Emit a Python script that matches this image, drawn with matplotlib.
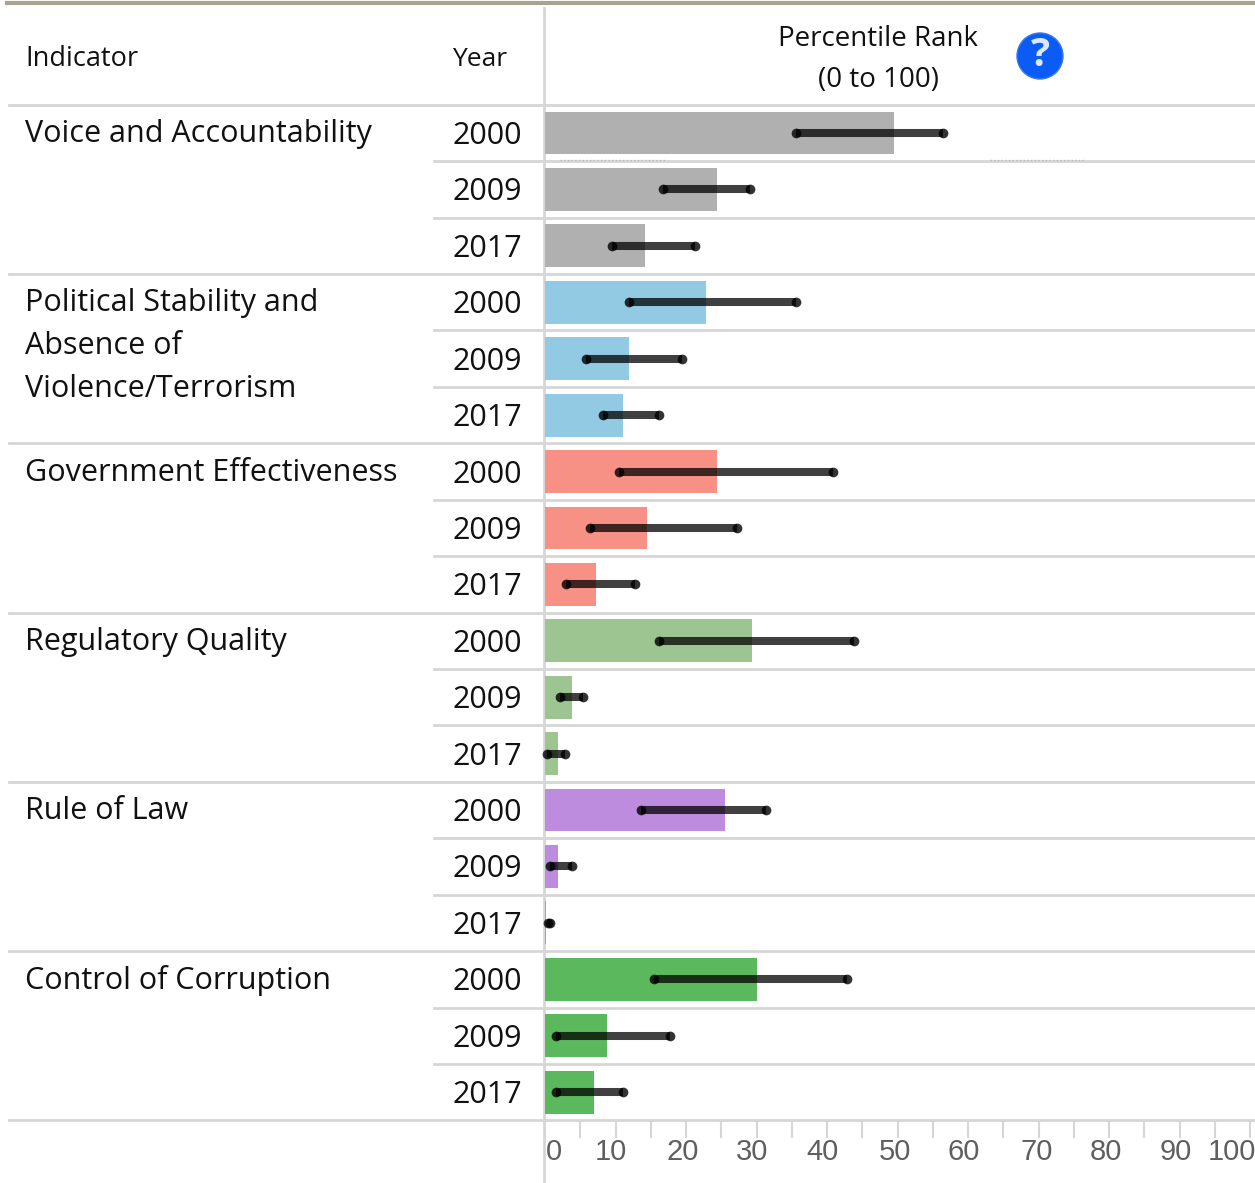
import numpy as np
import matplotlib
matplotlib.use('Agg')
import matplotlib.pyplot as plt
from matplotlib.patches import Circle

W, H = 1255, 1183

indicators = ['Voice and Accountability',
              'Political Stability and\nAbsence of\nViolence/Terrorism',
              'Government Effectiveness',
              'Regulatory Quality',
              'Rule of Law',
              'Control of Corruption']
years = ['2000', '2009', '2017']
colors = ['#b0b0b0', '#92c9e3', '#f79186', '#9cc591', '#bd8cdf', '#5cb85c']

ranks = [49.5, 24.4, 14.2,
         22.8, 11.9, 11.1,
         24.4, 14.5, 7.3,
         29.4, 3.9, 1.9,
         25.5, 1.9, 0.2,
         30.1, 8.8, 7.0]
low = [35.6, 16.7, 9.5,
       11.9, 5.8, 8.2,
       10.5, 6.4, 3.0,
       16.2, 2.1, 0.3,
       13.6, 0.7, 0.4,
       15.5, 1.6, 1.6]
high = [56.5, 29.1, 21.3,
        35.6, 19.5, 16.1,
        40.8, 27.3, 12.7,
        43.9, 5.4, 2.9,
        31.3, 3.9, 0.7,
        42.9, 17.8, 11.0]
tick_labels = ['0', '10', '20', '30', '40', '50', '60', '70', '80', '90', '100']

plt.rcParams['font.family'] = ['Open Sans', 'DejaVu Sans']
fig = plt.figure(figsize=(W / 100, H / 100), dpi=100)

# overlay in pixel coordinates for the table rules and text
px = fig.add_axes([0, 0, 1, 1])
px.set_xlim(0, W)
px.set_ylim(H, 0)
px.axis('off')

top, row_h = 104.8, 56.42
n = len(ranks)
grey = '#d6d6d6'
px.plot([7, W], [3, 3], color='#a8a290', lw=3)
px.plot([544, 544], [8, H], color=grey, lw=2)
for i in range(n + 1):
    y = top + i * row_h
    x0 = 9 if i % 3 == 0 else 434
    px.plot([x0, W], [y, y], color=grey, lw=2)
px.plot([560, 665], [160, 160], color='#bbbbbb', lw=1, ls=':')
px.plot([990, 1085], [160, 160], color='#bbbbbb', lw=1, ls=':')

px.text(25, 59, 'Indicator', fontsize=19.5, va='center', color='#111111')
px.text(452, 59, 'Year', fontsize=19, va='center', color='#111111')
px.text(878, 39, 'Percentile Rank', fontsize=20, va='center', ha='center', color='#111111')
px.text(878, 80, '(0 to 100)', fontsize=20, va='center', ha='center', color='#111111')
px.add_patch(Circle((1040, 56), 23, fc='#0b5cf5', ec='#3a78f0', lw=1))
px.text(1040, 55, '?', fontsize=29, color='#dce8ff', ha='center', va='center', fontweight='bold')

for i, name in enumerate(indicators):
    for j, line in enumerate(name.split('\n')):
        px.text(25, 134 + i * 3 * row_h + j * 43, line, fontsize=22, va='center', color='#111111')
for i in range(n):
    px.text(452, 136 + i * row_h, years[i % 3], fontsize=22, va='center', color='#111111')

# chart axes, 0 to 100 over the bar column
ax = fig.add_axes([545 / W, 1 - (top + n * row_h) / H, 705 / W, n * row_h / H])
ax.patch.set_alpha(0)
ax.set_xlim(0, 100)
ax.set_ylim(n, 0)
pos = np.arange(n) + 0.5
bar_colors = [colors[i // 3] for i in range(n)]
ax.barh(pos, ranks, height=0.76, color=bar_colors)
for p, a, b in zip(pos, low, high):
    ax.plot([a, b], [p, p], color='black', alpha=0.75, lw=5.8, solid_capstyle='butt', clip_on=False)
    ax.plot([a, b], [p, p], 'o', color='black', alpha=0.8, ms=7, mew=0, clip_on=False)
for s in ['top', 'right', 'left', 'bottom']:
    ax.spines[s].set_visible(False)
ax.set_yticks([])
ax.set_xticks(np.arange(0, 101, 5))
ax.set_xticklabels([])
ax.tick_params(axis='x', length=13, width=1.5, color=grey, direction='out')

label_pos = [1.2, 9.3, 19.5, 29.4, 39.3, 49.6, 59.4, 69.7, 79.5, 89.4, 97.4]
for v, t in zip(label_pos, tick_labels):
    ax.annotate(t, (v, n), xytext=(0, -32), xycoords='data', textcoords='offset pixels',
                ha='center', va='center', fontsize=21, color='#5f5f5f',
                family=['Liberation Sans', 'DejaVu Sans'], annotation_clip=False)

fig.savefig('out.png', dpi=100)
